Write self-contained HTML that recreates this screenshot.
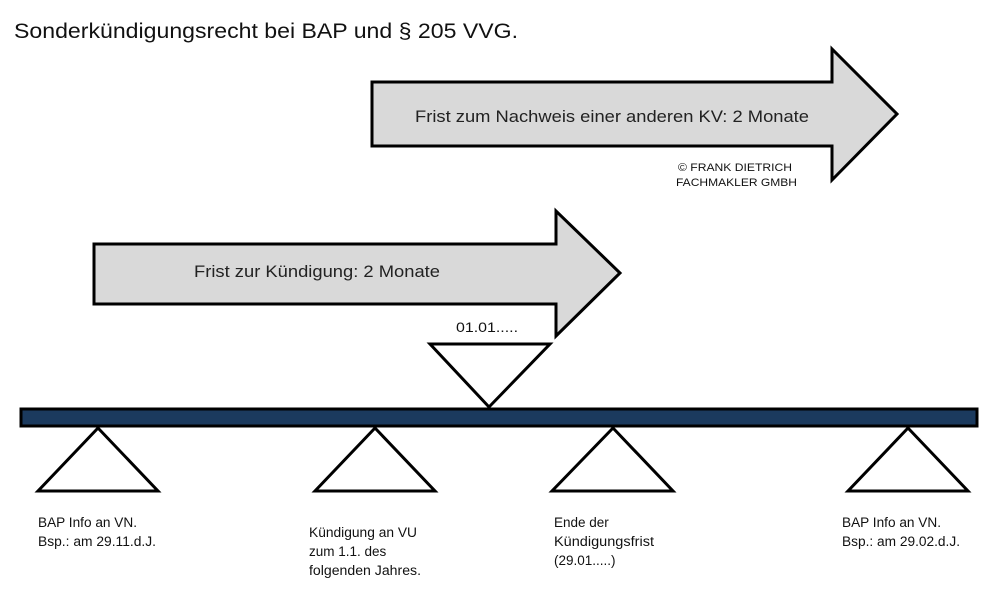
<!DOCTYPE html>
<html><head><meta charset="utf-8"><style>body{margin:0;background:#fff}svg{display:block}</style></head><body>
<svg width="981" height="596" viewBox="0 0 981 596" xmlns="http://www.w3.org/2000/svg" font-family="'Liberation Sans', sans-serif">
<rect width="981" height="596" fill="#fff"/>
<text x="14" y="38" font-size="21" fill="#111" textLength="504" lengthAdjust="spacingAndGlyphs">Sonderkündigungsrecht bei BAP und § 205 VVG.</text>
<polygon points="372,82 832,82 832,49 897,114 832,180 832,146 372,146" fill="#d9d9d9" stroke="#000" stroke-width="3" stroke-linejoin="miter"/>
<text x="415" y="122" font-size="17" fill="#222" textLength="394" lengthAdjust="spacingAndGlyphs">Frist zum Nachweis einer anderen KV: 2 Monate</text>
<text x="678" y="171" font-size="11" fill="#111" textLength="114" lengthAdjust="spacingAndGlyphs">© FRANK DIETRICH</text>
<text x="676" y="186" font-size="11" fill="#111" textLength="121" lengthAdjust="spacingAndGlyphs">FACHMAKLER GMBH</text>
<polygon points="94,244 556,244 556,211 620,273 556,336 556,304 94,304" fill="#d9d9d9" stroke="#000" stroke-width="3"/>
<text x="194" y="277" font-size="17" fill="#222" textLength="246" lengthAdjust="spacingAndGlyphs">Frist zur Kündigung: 2 Monate</text>
<rect x="421" y="306" width="133" height="36" fill="#fff"/>
<text x="456" y="332" font-size="14" fill="#111" textLength="62" lengthAdjust="spacingAndGlyphs">01.01.....</text>
<polygon points="430,344 550,344 489,407" fill="#fff" stroke="#000" stroke-width="3"/>
<rect x="21" y="409" width="956" height="17" fill="#1b3a5e" stroke="#000" stroke-width="3"/>
<g fill="#fff" stroke="#000" stroke-width="3">
<polygon points="98,428 38,491 158,491"/>
<polygon points="375,428 315,491 435,491"/>
<polygon points="613,428 552,491 673,491"/>
<polygon points="908,428 848,491 968,491"/>
</g>
<g font-size="13.5" fill="#111">
<text x="38" y="527" textLength="99" lengthAdjust="spacingAndGlyphs">BAP Info an VN.</text>
<text x="38" y="546" textLength="118" lengthAdjust="spacingAndGlyphs">Bsp.: am 29.11.d.J.</text>
<text x="309" y="537" textLength="108" lengthAdjust="spacingAndGlyphs">Kündigung an VU</text>
<text x="309" y="556">zum 1.1. des</text>
<text x="309" y="575" textLength="112" lengthAdjust="spacingAndGlyphs">folgenden Jahres.</text>
<text x="554" y="527">Ende der</text>
<text x="554" y="546" textLength="100" lengthAdjust="spacingAndGlyphs">Kündigungsfrist</text>
<text x="554" y="565">(29.01.....)</text>
<text x="842" y="527" textLength="99" lengthAdjust="spacingAndGlyphs">BAP Info an VN.</text>
<text x="842" y="546" textLength="118" lengthAdjust="spacingAndGlyphs">Bsp.: am 29.02.d.J.</text>
</g>
</svg>
</body></html>
